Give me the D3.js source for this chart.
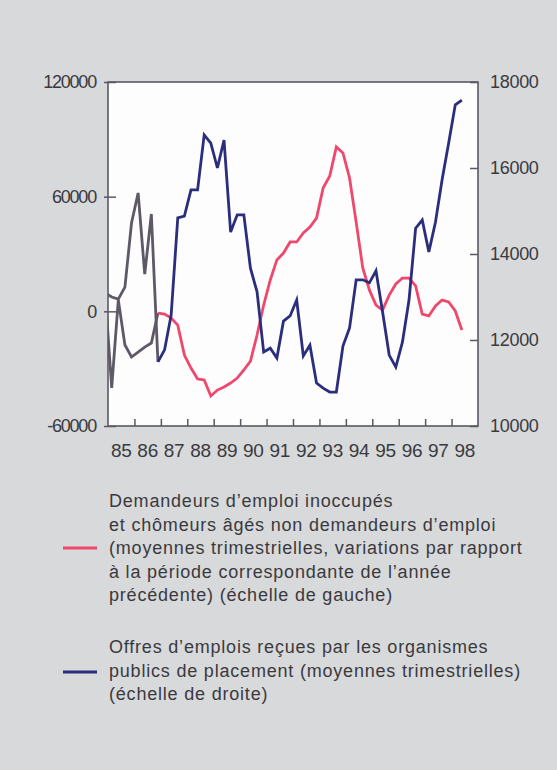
<!DOCTYPE html>
<meta charset="utf-8">
<script src="https://d3js.org/d3.v7.min.js"></script>
<style>
  body { margin: 0; background: #d8d9db; }
  text { font-family: "Liberation Sans", Arial, sans-serif; fill: #3a3a3e; }
</style>
<div id="chart"></div>
<script>

// ---- data ----
var years = ["85","86","87","88","89","90","91","92","93","94","95","96","97","98"];
var leftTicks = [120000, 60000, 0, -60000];
var rightTicks = [18000, 16000, 14000, 12000, 10000];

// old series (drawn grey), quarters 84T4 .. 86T4
var oldQuarters = ["84T4","85T1","85T2","85T3","85T4","86T1","86T2","86T3","86T4"];
var oldDemandeurs = [9600, -40000, 6000, -17600, -23900, -21300, -18700, -16600, -900];
var oldOffres = [13100, 13000, 12950, 13230, 14720, 15420, 13530, 14930, 11490];

// new series, quarters 86T4 .. 98T2
var quarters = ["86T4",
  "87T1","87T2","87T3","87T4","88T1","88T2","88T3","88T4",
  "89T1","89T2","89T3","89T4","90T1","90T2","90T3","90T4",
  "91T1","91T2","91T3","91T4","92T1","92T2","92T3","92T4",
  "93T1","93T2","93T3","93T4","94T1","94T2","94T3","94T4",
  "95T1","95T2","95T3","95T4","96T1","96T2","96T3","96T4",
  "97T1","97T2","97T3","97T4","98T1","98T2"];
var demandeurs = [-900, -1400, -3500, -7200, -22900, -29700, -35400, -35900, -44300,
  -41200, -39600, -37500, -34900, -30700, -26000, -12400, 3300, 16400, 26900, 30500,
  36300, 36300, 41000, 44100, 48800, 64500, 70800, 86000, 82900, 69800, 46700, 22700,
  11200, 3300, 700, 8500, 14300, 17400, 17400, 13300, -1400, -2400, 2800, 5900, 4900,
  200, -9800];
var offres = [11490, 11770, 12580, 14840, 14880, 15490, 15490, 16770, 16580, 16000,
  16650, 14510, 14910, 14910, 13670, 13120, 11720, 11810, 11580, 12440, 12560, 12930,
  11630, 11880, 11000, 10880, 10790, 10790, 11860, 12280, 13400, 13400, 13330, 13610,
  12650, 11650, 11370, 11950, 12930, 14600, 14790, 14050, 14740, 15720, 16580, 17470,
  17580];

var legend1 = ["Demandeurs d\u2019emploi inoccupés",
  "et chômeurs âgés non demandeurs d\u2019emploi",
  "(moyennes trimestrielles, variations par rapport",
  "à la période correspondante de l\u2019année",
  "précédente) (échelle de gauche)"];
var legend2 = ["Offres d\u2019emplois reçues par les organismes",
  "publics de placement (moyennes trimestrielles)",
  "(échelle de droite)"];

var pink = "#f0486c", navy = "#2b2e7c", grey = "#5e5867", axisCol = "#5a5864";

// ---- layout ----
var W = 557, H = 770;
var plot = {left: 108, right: 478, top: 82, bottom: 426};

var svg = d3.select("#chart").append("svg")
  .attr("width", W).attr("height", H);

svg.append("rect").attr("width", W).attr("height", H).attr("fill", "#d8d9db");

var x = d3.scaleLinear().domain([85, 99]).range([plot.left, plot.right]);
var yL = d3.scaleLinear().domain([-60000, 120000]).range([plot.bottom, plot.top]);
var yR = d3.scaleLinear().domain([10000, 18000]).range([plot.bottom, plot.top]);

function qx(q) {
  var yr = +q.slice(0, 2), t = +q.slice(3);
  return x(yr + (t - 1) / 4 + 0.14);
}

svg.append("rect")
  .attr("x", plot.left).attr("y", plot.top)
  .attr("width", plot.right - plot.left).attr("height", plot.bottom - plot.top)
  .attr("fill", "#fdfdfd");

svg.append("clipPath").attr("id", "clip").append("rect")
  .attr("x", plot.left).attr("y", plot.top)
  .attr("width", plot.right - plot.left).attr("height", plot.bottom - plot.top);

var lines = svg.append("g").attr("clip-path", "url(#clip)");

function draw(qs, vals, scale, col) {
  var line = d3.line()
    .x(function(d, i) { return qx(qs[i]); })
    .y(function(d) { return scale(d); });
  lines.append("path")
    .datum(vals)
    .attr("d", line)
    .attr("fill", "none")
    .attr("stroke", col)
    .attr("stroke-width", 2.8)
    .attr("stroke-linejoin", "miter");
}

draw(oldQuarters, oldDemandeurs, yL, grey);
draw(oldQuarters, oldOffres, yR, grey);
draw(quarters, demandeurs, yL, pink);
draw(quarters, offres, yR, navy);

// frame
svg.append("rect")
  .attr("x", plot.left).attr("y", plot.top)
  .attr("width", plot.right - plot.left).attr("height", plot.bottom - plot.top)
  .attr("fill", "none").attr("stroke", axisCol).attr("stroke-width", 1.6);

var plain = function(d) { return String(d); };

// left axis
var gL = svg.append("g").attr("transform", "translate(" + plot.left + ",0)")
  .call(d3.axisLeft(yL).tickValues(leftTicks).tickSize(-8).tickPadding(12)
    .tickFormat(plain));
gL.select(".domain").remove();
gL.selectAll(".tick line").attr("x1", -4).attr("stroke", axisCol).attr("stroke-width", 1.5);
gL.selectAll(".tick text").attr("font-size", 18).attr("letter-spacing", -1.2)
  .attr("font-family", "Liberation Sans, Arial, sans-serif").attr("fill", "#3a3a3e");

// right axis
var gR = svg.append("g").attr("transform", "translate(" + plot.right + ",0)")
  .call(d3.axisRight(yR).tickValues(rightTicks).tickSize(-8).tickPadding(12)
    .tickFormat(plain));
gR.select(".domain").remove();
gR.selectAll(".tick line").attr("stroke", axisCol).attr("stroke-width", 1.5);
gR.selectAll(".tick text").attr("font-size", 18).attr("letter-spacing", -0.3)
  .attr("font-family", "Liberation Sans, Arial, sans-serif").attr("fill", "#3a3a3e");

// bottom axis: ticks at year boundaries, labels centred in each year
var gB = svg.append("g").attr("transform", "translate(0," + plot.bottom + ")")
  .call(d3.axisBottom(x).tickValues(d3.range(86, 99)).tickSize(-7).tickFormat(""));
gB.select(".domain").remove();
gB.selectAll(".tick line").attr("stroke", axisCol).attr("stroke-width", 1.5);

svg.append("g").selectAll("text")
  .data(years)
  .enter().append("text")
  .attr("x", function(d) { return x(+d + 0.5); })
  .attr("y", 457)
  .attr("text-anchor", "middle")
  .attr("font-size", 19)
  .attr("letter-spacing", -0.3)
  .text(function(d) { return d; });

// legend
function legendBlock(linesTxt, y0, swatchY, col) {
  svg.append("line")
    .attr("x1", 63).attr("x2", 97)
    .attr("y1", swatchY).attr("y2", swatchY)
    .attr("stroke", col).attr("stroke-width", 3);
  svg.append("g").selectAll("text")
    .data(linesTxt)
    .enter().append("text")
    .attr("x", 109)
    .attr("y", function(d, i) { return y0 + i * 23.5; })
    .attr("font-size", 18)
    .attr("letter-spacing", 0.8)
    .text(function(d) { return d; });
}
legendBlock(legend1, 507, 548, pink);
legendBlock(legend2, 653, 672, navy);

</script>
